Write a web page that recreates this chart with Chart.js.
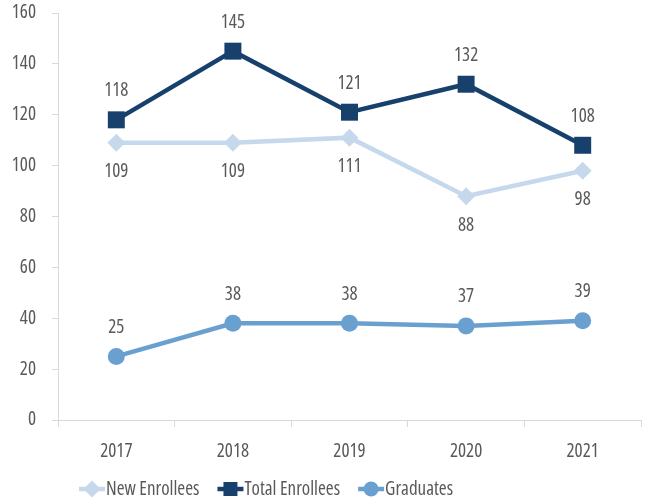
<!DOCTYPE html>
<html>
<head>
<meta charset="utf-8">
<script src="https://cdn.jsdelivr.net/npm/chart.js@4/dist/chart.umd.min.js"></script>
<style>
html,body{margin:0;padding:0;background:#fff;}
#wrap{width:649px;height:504px;}
</style>
</head>
<body>
<div id="wrap"><canvas id="c" width="649" height="504"></canvas></div>
<script>
const categories = ['2017', '2018', '2019', '2020', '2021'];
const newEnrollees = [109, 109, 111, 88, 98];
const totalEnrollees = [118, 145, 121, 132, 108];
const graduates = [25, 38, 38, 37, 39];
const yTicks = [0, 20, 40, 60, 80, 100, 120, 140, 160];

const FAMILY = "'Open Sans', sans-serif";
const WEIGHT = '500 condensed';
const FSIZE = 19;
const FONTSTR = WEIGHT + ' ' + FSIZE + 'px ' + FAMILY;
const TEXT = '#595959';
const AXIS = '#d9d9d9';

const dataLabels = {
  id: 'dataLabels',
  afterDatasetsDraw(chart) {
    const ctx = chart.ctx;
    ctx.save();
    ctx.font = FONTSTR;
    ctx.fillStyle = TEXT;
    ctx.textAlign = 'center';
    ctx.textBaseline = 'middle';
    chart.data.datasets.forEach((ds, i) => {
      const meta = chart.getDatasetMeta(i);
      const off = ds.labelPos === 'below' ? 29 : -29;
      meta.data.forEach((el, j) => {
        ctx.fillText(String(ds.data[j]), el.x, el.y + off);
      });
    });
    ctx.restore();
  }
};

function drawMarker(ctx, style, x, y, r, color) {
  ctx.fillStyle = color;
  ctx.beginPath();
  if (style === 'rectRot') {
    ctx.moveTo(x - r, y); ctx.lineTo(x, y - r); ctx.lineTo(x + r, y); ctx.lineTo(x, y + r);
    ctx.closePath();
  } else if (style === 'rect') {
    ctx.rect(x - r, y - r, 2 * r, 2 * r);
  } else {
    ctx.arc(x, y, r, 0, Math.PI * 2);
  }
  ctx.fill();
}

const customLegend = {
  id: 'customLegend',
  afterDraw(chart) {
    const ctx = chart.ctx;
    ctx.save();
    ctx.font = FONTSTR;
    const sym = 26, gapT = 1, gapItem = 18;
    const items = chart.data.datasets.map(ds => ({ds, w: ctx.measureText(ds.label).width}));
    let total = 0;
    items.forEach((it, k) => { total += sym + gapT + it.w + (k < items.length - 1 ? gapItem : 0); });
    let x = 266 - total / 2;
    const y = 489;
    items.forEach(it => {
      const ds = it.ds;
      ctx.strokeStyle = ds.borderColor;
      ctx.lineWidth = 4.5;
      ctx.beginPath(); ctx.moveTo(x, y); ctx.lineTo(x + sym, y); ctx.stroke();
      const r = ds.pointStyle === 'rect' ? 7 : (ds.pointStyle === 'rectRot' ? 8.5 : 7.5);
      drawMarker(ctx, ds.pointStyle, x + sym / 2, y, r, ds.borderColor);
      ctx.fillStyle = TEXT;
      ctx.textAlign = 'left';
      ctx.textBaseline = 'middle';
      ctx.fillText(ds.label, x + sym + gapT, y + 1);
      x += sym + gapT + it.w + gapItem;
    });
    ctx.restore();
  }
};

new Chart(document.getElementById('c'), {
  type: 'line',
  data: {
    labels: categories,
    datasets: [
      {
        label: 'New Enrollees', data: newEnrollees, labelPos: 'below',
        borderColor: '#c6d9ec', backgroundColor: '#c6d9ec', borderWidth: 4.5,
        pointStyle: 'rectRot', pointRadius: 9, pointHoverRadius: 9, pointBorderWidth: 0
      },
      {
        label: 'Total Enrollees', data: totalEnrollees, labelPos: 'above',
        borderColor: '#17406d', backgroundColor: '#17406d', borderWidth: 4.5,
        pointStyle: 'rect', pointRadius: 12, pointHoverRadius: 12, pointBorderWidth: 0
      },
      {
        label: 'Graduates', data: graduates, labelPos: 'above',
        borderColor: '#6aa0cf', backgroundColor: '#6aa0cf', borderWidth: 4.5,
        pointStyle: 'circle', pointRadius: 8.5, pointHoverRadius: 8.5, pointBorderWidth: 0
      }
    ]
  },
  options: {
    responsive: false,
    animation: false,
    layout: { autoPadding: false, padding: { top: 13, right: 8, bottom: 44, left: 0 } },
    plugins: { legend: { display: false }, tooltip: { enabled: false } },
    scales: {
      x: {
        offset: true,
        grid: { offset: true, drawOnChartArea: false, drawTicks: true, tickLength: 7, color: AXIS, lineWidth: 1 },
        border: { color: AXIS, width: 1 },
        ticks: { color: TEXT, font: { family: FAMILY, size: FSIZE, weight: WEIGHT }, padding: 13, maxRotation: 0 },
        afterFit(scale) { scale.height = 40; scale.paddingLeft = 0; scale.paddingRight = 0; }
      },
      y: {
        min: 0, max: 160,
        afterBuildTicks(scale) { scale.ticks = yTicks.map(v => ({value: v})); },
        grid: { drawOnChartArea: false, drawTicks: true, tickLength: 6, color: AXIS, lineWidth: 1 },
        border: { color: AXIS, width: 1 },
        ticks: { color: TEXT, font: { family: FAMILY, size: FSIZE, weight: WEIGHT }, padding: 16 },
        afterFit(scale) { scale.width = 58; scale.paddingTop = 0; scale.paddingBottom = 0; }
      }
    }
  },
  plugins: [dataLabels, customLegend]
});
</script>
</body>
</html>
